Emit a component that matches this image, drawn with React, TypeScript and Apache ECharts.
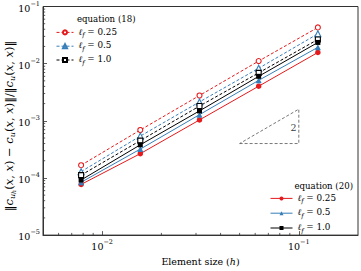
import React, { useEffect, useRef } from "react";
import * as echarts from "echarts";

const H = [0.0078125, 0.015625, 0.03125, 0.0625, 0.125];
const EQ18_025 = [1.67e-4, 6.9e-4, 2.77e-3, 1.11e-2, 4.3e-2];
const EQ18_05 = [1.29e-4, 5.4e-4, 2.14e-3, 8.3e-3, 3.33e-2];
const EQ18_10 = [1.12e-4, 4.5e-4, 1.81e-3, 6.9e-3, 2.65e-2];
const EQ20_025 = [7.7e-5, 2.66e-4, 1.035e-3, 4.03e-3, 1.57e-2];
const EQ20_05 = [8.4e-5, 3.2e-4, 1.28e-3, 5.1e-3, 1.93e-2];
const EQ20_10 = [9.2e-5, 3.8e-4, 1.49e-3, 6.0e-3, 2.35e-2];
const LF = ["0.25", "0.5", "1.0"];
const TRIANGLE = [
  [0.05, 4e-4],
  [0.1, 4e-4],
  [0.1, 1.6e-3],
  [0.05, 4e-4],
];
const SLOPE_LABEL = [[0.094, 7.6e-4]];

const X_MIN = 0.005;
const X_MAX = 0.2;
const Y_MIN = 1e-5;
const Y_MAX = 0.1;

const RED = "#e41a1c";
const BLUE = "#377eb8";
const BLACK = "#000000";
const SERIF = "DejaVu Serif, serif";

const minorTicks = (lo: number, hi: number) => {
  const out: number[] = [];
  for (let e = -6; e <= 0; e++) {
    for (let k = 2; k <= 9; k++) {
      const v = k * Math.pow(10, e);
      if (v > lo * 1.0001 && v < hi * 0.9999) out.push(v);
    }
  }
  return out;
};

const mkRich = (fs: number) => ({
  n: { fontFamily: SERIF, fontWeight: "normal", fontSize: fs, color: "#000", lineHeight: fs + 2, verticalAlign: "top" },
  i: { fontFamily: SERIF, fontWeight: "normal", fontSize: fs, fontStyle: "italic", color: "#000", lineHeight: fs + 2, verticalAlign: "top" },
  s: { fontFamily: SERIF, fontWeight: "normal", fontSize: fs * 0.7, fontStyle: "italic", color: "#000", lineHeight: fs * 0.8, verticalAlign: "bottom" },
  ss: { fontFamily: SERIF, fontWeight: "normal", fontSize: fs * 0.55, fontStyle: "italic", color: "#000", lineHeight: fs * 0.6, verticalAlign: "bottom" },
});

const tickRich = {
  b: { fontFamily: SERIF, fontWeight: "normal", fontSize: 9.5, color: "#000", lineHeight: 13, verticalAlign: "bottom" },
  p: { fontFamily: SERIF, fontWeight: "normal", fontSize: 6.5, color: "#000", lineHeight: 7, verticalAlign: "top" },
};

const powFmt = (v: number) => {
  const e = Math.log10(v);
  if (Math.abs(e - Math.round(e)) > 1e-6) return "";
  return `{b|10}{p|−${-Math.round(e)}}`;
};

export default function App() {
  const ref = useRef<HTMLDivElement>(null);
  useEffect(() => {
    if (!ref.current) return;
    const chart = echarts.init(ref.current, null, { renderer: "svg" });
    const mk = (vals: number[]) => H.map((h, i) => [h, vals[i]]);
    const names18 = ["a0", "a1", "a2"];
    const names20 = ["b0", "b1", "b2"];
    const lineSeries = (
      name: string,
      vals: number[],
      color: string,
      symbol: string,
      open: boolean,
      dashed: boolean,
      size: number
    ) => ({
      type: "line",
      name,
      data: mk(vals),
      symbol,
      symbolSize: size,
      showSymbol: true,
      z: 5,
      lineStyle: { color, width: 1, type: dashed ? [3, 2] : "solid" },
      itemStyle: open
        ? { color: "#fff", borderColor: color, borderWidth: 1.1 }
        : { color, borderColor: color, borderWidth: 0 },
      emphasis: { disabled: true },
    });
    const legendFmt = (name: string) => {
      const idx = Number(name.slice(1));
      return `{i|ℓ}{s|f}{n| = ${LF[idx]}}`;
    };
    const yName =
      "{n|‖}{i|c}{s|u}{ss|h}{n|(}{i|x}{n|, }{i|x}{n|) − }{i|c}{s|u}{n|(}{i|x}{n|, }{i|x}{n|)‖/‖}{i|c}{s|u}{n|(}{i|x}{n|, }{i|x}{n|)‖}";
    const tickSeries = (data: number[][], dx: number, dy: number) => ({
      type: "custom",
      silent: true,
      clip: false,
      z: 3,
      data,
      renderItem: (params: any, api: any) => {
        const p = api.coord([api.value(0), api.value(1)]);
        return {
          type: "line",
          shape: { x1: p[0], y1: p[1], x2: p[0] + dx, y2: p[1] + dy },
          style: { stroke: "#333", lineWidth: 0.8 },
        };
      },
    });
    const legendCommon = {
      orient: "vertical",
      itemHeight: 5,
      formatter: legendFmt,
      textStyle: { rich: mkRich(8.8), fontFamily: SERIF, fontSize: 8.8, fontWeight: "normal" },
      lineStyle: { width: 1 },
      selectedMode: false,
    };
    chart.setOption({
      animation: false,
      textStyle: { fontFamily: SERIF, fontWeight: "normal" },
      grid: {
        left: 43,
        top: 5,
        right: 3,
        bottom: 29,
        show: true,
        borderColor: "#333",
        borderWidth: 1,
        backgroundColor: "transparent",
      },
      xAxis: {
        type: "log",
        logBase: 10,
        min: X_MIN,
        max: X_MAX,
        name: "Element size ({i|h})",
        nameLocation: "middle",
        nameGap: 14,
        nameTextStyle: {
          fontFamily: SERIF,
          fontWeight: "normal",
          fontSize: 9.5,
          color: "#000",
          rich: { i: { fontFamily: SERIF, fontSize: 9.5, fontStyle: "italic", color: "#000" } },
        },
        axisLine: { show: true, lineStyle: { color: "#333", width: 1 } },
        axisTick: { show: true, inside: true, length: 4, lineStyle: { color: "#333", width: 0.8 } },
        axisLabel: { formatter: powFmt, rich: tickRich, margin: 3, showMinLabel: false, showMaxLabel: false },
        splitLine: { show: false },
        minorTick: { show: false },
      },
      yAxis: {
        type: "log",
        logBase: 10,
        min: Y_MIN,
        max: Y_MAX,
        axisLine: { show: true, lineStyle: { color: "#333", width: 1 } },
        axisTick: { show: true, inside: true, length: 4, lineStyle: { color: "#333", width: 0.8 } },
        axisLabel: { formatter: powFmt, rich: tickRich, margin: 3 },
        splitLine: { show: false },
      },
      legend: [
        { ...legendCommon, data: names18, left: 51, top: 22, itemWidth: 17, itemGap: 3 },
        { ...legendCommon, data: names20, left: 265, top: 188, itemWidth: 22, itemGap: 4 },
      ],
      graphic: [
        {
          type: "text",
          left: 77,
          top: 14,
          style: { text: "equation (18)", fontFamily: SERIF, fontWeight: "normal", fontSize: 8.6, fill: "#000" },
        },
        {
          type: "text",
          right: 8,
          top: 181,
          style: { text: "equation (20)", fontFamily: SERIF, fontWeight: "normal", fontSize: 8.6, fill: "#000" },
        },
        {
          type: "text",
          x: 10,
          y: 126,
          rotation: Math.PI / 2,
          style: {
            text: yName,
            rich: mkRich(11.5),
            align: "center",
            verticalAlign: "middle",
          },
        },
      ],
      series: [
        {
          type: "line",
          name: "tri",
          data: TRIANGLE,
          symbol: "none",
          silent: true,
          z: 2,
          lineStyle: { color: "#555", width: 0.8, type: [3, 2] },
        },
        {
          type: "scatter",
          name: "slope",
          data: SLOPE_LABEL,
          symbolSize: 0,
          silent: true,
          label: {
            show: true,
            formatter: "2",
            position: "inside",
            fontFamily: SERIF,
            fontWeight: "normal",
            fontSize: 9.5,
            color: "#000",
          },
        },
        tickSeries(minorTicks(X_MIN, X_MAX).map((v) => [v, Y_MIN]), 0, -2.2),
        tickSeries(minorTicks(Y_MIN, Y_MAX).map((v) => [X_MIN, v]), 2.2, 0),
        lineSeries("a0", EQ18_025, RED, "circle", true, true, 5),
        lineSeries("a1", EQ18_05, BLUE, "triangle", true, true, 6),
        lineSeries("a2", EQ18_10, BLACK, "rect", true, true, 5),
        lineSeries("b0", EQ20_025, RED, "circle", false, false, 5.5),
        lineSeries("b1", EQ20_05, BLUE, "triangle", false, false, 6),
        lineSeries("b2", EQ20_10, BLACK, "rect", false, false, 5),
      ],
    });
    return () => chart.dispose();
  }, []);
  return (
    <div
      ref={ref}
      style={{ position: "fixed", left: 0, top: 0, width: 361, height: 271, background: "#fff" }}
    />
  );
}
